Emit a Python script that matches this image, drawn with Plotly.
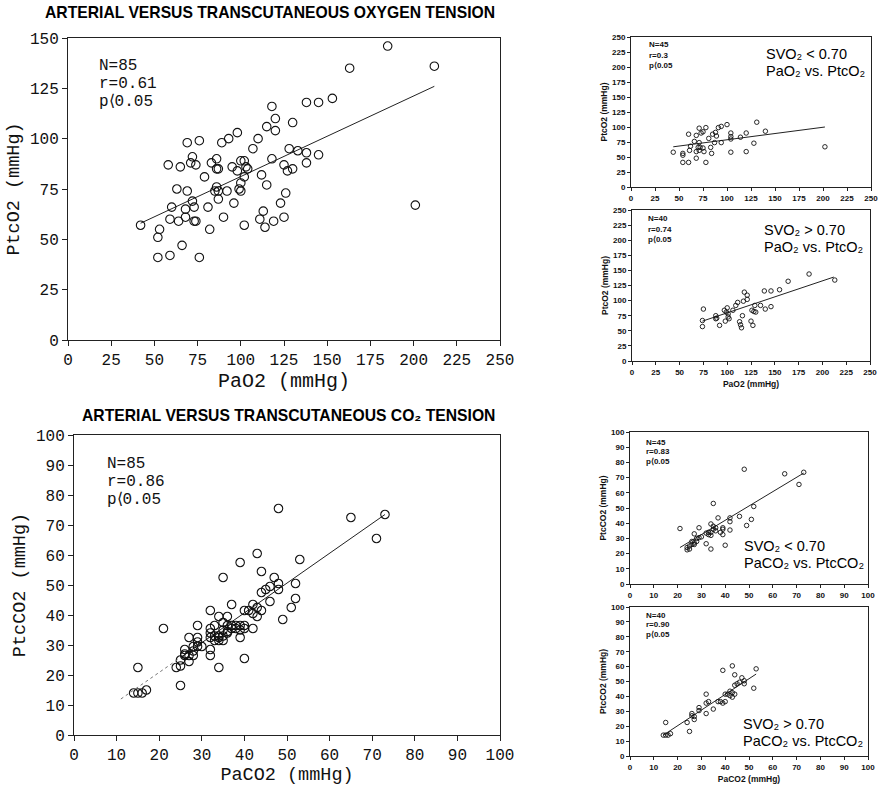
import plotly.graph_objects as go

# ---------------- DATA ----------------
# Main O2 panel (N=85)
o2_pao2 = [185, 163, 212, 153, 138, 145, 118, 120, 120, 115, 130, 110, 98, 93, 89, 76, 69,
           107, 128, 133, 138, 145, 138, 58, 65, 72, 71, 74, 83, 86, 86, 87, 95, 98, 100, 102,
           103, 104, 100, 102, 99, 100, 112, 118, 125, 127, 130, 79, 115, 126, 63, 69, 86, 85,
           87, 92, 87, 96, 72, 60, 68, 73, 81, 123, 113, 68, 59, 64, 73, 74, 90, 111, 119, 125,
           102, 114, 42, 53, 52, 82, 66, 52, 59, 76, 201]
o2_ptco2 = [146, 135, 136, 120, 118, 118, 116, 110, 104, 106, 108, 100, 103, 100, 98, 99, 98,
            95, 95, 94, 93, 92, 88, 87, 86, 91, 88, 87, 88, 90, 85, 85, 86, 84, 89, 89,
            86, 85, 78, 81, 75, 74, 82, 90, 87, 84, 85, 81, 77, 73, 75, 74, 76, 74,
            74, 74, 70, 68, 69, 66, 65, 66, 66, 68, 64, 61, 60, 59, 59, 59, 61, 60, 59, 61,
            57, 56, 57, 55, 51, 55, 47, 41, 42, 41, 67]
o2_fit_x = [42, 212]
o2_fit_y = [58, 126]

# Main CO2 panel (N=85)
co2_paco2 = [48, 65, 73, 71, 43, 39, 53, 35, 44, 47, 48, 48, 46, 45, 44, 52, 52, 46, 51, 49,
             37, 32, 40, 42, 41, 42, 43, 43, 44, 42, 34, 36, 35, 36, 37, 38, 39, 40, 40, 39,
             39, 36, 35, 35, 34, 34, 33, 33, 32, 32, 32, 33, 32, 32, 29, 29, 29, 30, 29, 28,
             28, 27, 26, 26, 27, 28, 26, 27, 25, 25, 24, 25, 21, 34, 40, 15, 14, 15, 16, 17,
             35, 34, 38, 37, 36]
co2_ptcco2 = [75.5, 72.5, 73.5, 65.5, 60.5, 57.5, 58.5, 52.5, 54.5, 52.5, 50.5, 48.5, 49.5,
              48.5, 47.5, 50.5, 45.5, 44.5, 42.5, 38.5, 43.5, 41.5, 41.5, 43.5, 41.5, 40.5,
              42.5, 39.5, 41.5, 35.5, 39.5, 39.5, 37.5, 36.5, 36.5, 36.5, 36.5, 36.5, 35.5,
              35, 32.5, 34.5, 33, 31.5, 33, 32.5, 33, 36.5, 35.5, 34, 32.5, 31.5, 28.5, 26.5,
              36.5, 32.5, 31, 29.5, 29.5, 29.5, 28, 32.5, 28.5, 27, 26.5, 26.5, 26.5, 24.5,
              25, 23, 22.5, 16.5, 35.5, 22.5, 25.5, 22.5, 14, 14, 14, 15, 35, 31.5, 35.5,
              35.5, 34]
co2_fit_x = [25, 73]            # solid part of the regression line
co2_fit_y = [25.8, 73.5]
co2_fit_dot_x = [11, 25]        # faint dotted lower part
co2_fit_dot_y = [12, 25.8]

# SVO2 < 0.70, O2 (N=45)
lo_o2_pao2 = [44, 54, 54, 54, 60, 60, 62, 61, 66, 68, 68, 68, 71, 71, 71, 70, 73, 75, 75, 76,
              78, 78, 81, 83, 84, 85, 87, 88, 89, 91, 94, 94, 100, 104, 104, 104, 104, 114,
              120, 120, 128, 131, 140, 202, 72]
lo_o2_ptco2 = [58, 53, 56, 41, 41, 88, 68, 61, 76, 86, 59, 48, 98, 74, 61, 66, 90, 92, 65, 59,
               99, 41, 81, 66, 56, 88, 74, 91, 85, 99, 101, 74, 104, 58, 90, 84, 80, 83,
               90, 59, 73, 108, 93, 67, 66]
lo_o2_fit_x = [44, 202]
lo_o2_fit_y = [67, 100]

# SVO2 > 0.70, O2 (N=40)
hi_o2_pao2 = [74, 74, 75, 88, 88, 89, 92, 97, 98, 99, 100, 101, 101, 102, 106, 109, 111, 114,
              113, 115, 116, 117, 118, 121, 121, 125, 126, 127, 128, 129, 130, 135, 139, 140,
              146, 146, 155, 164, 186, 213]
hi_o2_ptco2 = [67, 57, 86, 75, 70, 71, 59, 84, 66, 81, 88, 73, 78, 70, 84, 92, 97, 60,
               65, 55, 75, 99, 114, 109, 102, 66, 84, 59, 82, 92, 81, 92, 116, 86,
               116, 90, 118, 132, 144, 134]
hi_o2_fit_x = [74, 212]
hi_o2_fit_y = [66, 139]

# SVO2 < 0.70, CO2 (N=45)
lo_co2_paco2 = [48, 65, 71, 73, 35, 52, 37, 42, 46, 51, 42, 49, 21, 29, 34, 35, 36, 35, 39, 39,
                38, 42, 39, 27, 32, 33, 34, 34, 33, 28, 29, 30, 26, 27, 26, 25, 24, 25, 24,
                27, 28, 34, 40, 32, 36]
lo_co2_ptcco2 = [75.5, 72.5, 65.5, 73.5, 53, 51, 43.5, 43.5, 44.5, 42.5, 41, 38.5, 36.5, 37,
                 39.5, 38, 37, 36, 37, 36, 34, 35.5, 32.5, 33, 33.5, 32.5, 32, 34, 34, 30,
                 30.5, 31, 28, 27, 26, 25, 24, 23, 22.5, 26, 28, 23, 25.5, 26.5, 35]
lo_co2_fit_x = [21, 73]
lo_co2_fit_y = [24, 73]

# SVO2 > 0.70, CO2 (N=40)
hi_co2_paco2 = [53, 43, 39, 44, 47, 48, 48, 46, 45, 44, 52, 42, 43, 44, 43, 40, 41, 42, 32, 39,
                40, 37, 38, 33, 35, 32, 32, 29, 29, 26, 27, 26, 27, 24, 25, 15, 14, 15, 16, 17]
hi_co2_ptcco2 = [58.5, 60.5, 57.5, 54.5, 52.5, 50.5, 48.5, 49.5, 48.5, 47.5, 45.5, 43.5, 42.5,
                 41.5, 39.5, 41.5, 41.5, 40.5, 41.5, 35.5, 36.5, 36.5, 36.5, 36.5, 31.5, 35.5,
                 28.5, 32.5, 30.5, 28.5, 26.5, 27, 24.5, 22.5, 16.5, 22.5, 14, 14, 14, 15]
hi_co2_fit_x = [14, 53]
hi_co2_fit_y = [14, 55]

# Tick values
o2_ticks = [0, 25, 50, 75, 100, 125, 150, 175, 200, 225, 250]
o2_main_yticks = [0, 25, 50, 75, 100, 125, 150]
co2_ticks = [0, 10, 20, 30, 40, 50, 60, 70, 80, 90, 100]

# Texts
main_titles = ["ARTERIAL VERSUS TRANSCUTANEOUS OXYGEN TENSION",
               "ARTERIAL VERSUS TRANSCUTANEOUS CO₂ TENSION"]
o2_stats = ["N=85", "r=0.61", "p⟨0.05"]
co2_stats = ["N=85", "r=0.86", "p⟨0.05"]
small_stats = [["N=45", "r=0.3", "p⟨0.05"],
               ["N=40", "r=0.74", "p⟨0.05"],
               ["N=45", "r=0.83", "p⟨0.05"],
               ["N=40", "r=0.90", "p⟨0.05"]]
small_labels = [["SVO₂ < 0.70", "PaO₂ vs. PtcO₂"],
                ["SVO₂ > 0.70", "PaO₂ vs. PtcO₂"],
                ["SVO₂ < 0.70", "PaCO₂ vs. PtcCO₂"],
                ["SVO₂ > 0.70", "PaCO₂ vs. PtcCO₂"]]

# ---------------- FIGURE ----------------
W, H = 882, 790
def dx(a, b):
    return [a / W, b / W]
def dy(top, bottom):
    return [1 - bottom / H, 1 - top / H]

fig = go.Figure()

panels = [
    (o2_pao2, o2_ptco2, o2_fit_x, o2_fit_y, "", 8.5),
    (co2_paco2, co2_ptcco2, co2_fit_x, co2_fit_y, "2", 8.5),
    (lo_o2_pao2, lo_o2_ptco2, lo_o2_fit_x, lo_o2_fit_y, "3", 4.5),
    (hi_o2_pao2, hi_o2_ptco2, hi_o2_fit_x, hi_o2_fit_y, "4", 4.5),
    (lo_co2_paco2, lo_co2_ptcco2, lo_co2_fit_x, lo_co2_fit_y, "5", 4.5),
    (hi_co2_paco2, hi_co2_ptcco2, hi_co2_fit_x, hi_co2_fit_y, "6", 4.5),
]
for xs, ys, fx, fy, s, ms in panels:
    fig.add_trace(go.Scatter(x=fx, y=fy, mode="lines", xaxis="x" + s, yaxis="y" + s,
                             line=dict(color="#222", width=1), showlegend=False,
                             hoverinfo="skip"))
    fig.add_trace(go.Scatter(x=xs, y=ys, mode="markers", xaxis="x" + s, yaxis="y" + s,
                             marker=dict(symbol="circle-open", size=ms, color="#111",
                                         line=dict(width=1.1 if ms > 6 else 0.9)),
                             showlegend=False))
fig.add_trace(go.Scatter(x=co2_fit_dot_x, y=co2_fit_dot_y, mode="lines", xaxis="x2",
                         yaxis="y2", line=dict(color="#777", width=1, dash="dot"),
                         showlegend=False, hoverinfo="skip"))

mono = "Liberation Mono"
sans = "Liberation Sans"

def main_axis(domain, rng, ticks, title, anchor, standoff, tsize=18.5):
    return dict(domain=domain, range=rng, tickvals=ticks, ticks="outside", ticklen=5,
                tickcolor="#222", showline=True, linecolor="#222", linewidth=1, mirror=True,
                showgrid=False, zeroline=False, anchor=anchor, automargin=False,
                tickfont=dict(family=mono, size=16, color="#111"),
                title=dict(text=title, font=dict(family=mono, size=tsize, color="#111"),
                           standoff=standoff))

def small_axis(domain, rng, ticks, title, anchor, standoff=4):
    return dict(domain=domain, range=rng, tickvals=ticks, ticks="outside", ticklen=3,
                tickcolor="#222", showline=True, linecolor="#222", linewidth=1, mirror=True,
                showgrid=False, zeroline=False, anchor=anchor, automargin=False,
                tickfont=dict(family=sans, size=8, color="#111", weight="bold"),
                title=dict(text=title, font=dict(family=sans, size=8.5, color="#111",
                                                 weight="bold"), standoff=standoff))

fig.update_layout(
    template="none",
    width=W, height=H, margin=dict(l=0, r=0, t=0, b=0, autoexpand=False),
    paper_bgcolor="white", plot_bgcolor="white",
    xaxis=main_axis(dx(68, 500), [0, 250], o2_ticks, "PaO2 (mmHg)", "y", 2, 20),
    yaxis=main_axis(dy(38, 340), [0, 150], o2_main_yticks, "PtcO2 (mmHg)", "x", 5),
    xaxis2=main_axis(dx(74, 500), [0, 100], co2_ticks, "PaCO2 (mmHg)", "y2", 2),
    yaxis2=main_axis(dy(435, 735), [0, 100], co2_ticks, "PtcCO2 (mmHg)", "x2", 5),
    xaxis3=small_axis(dx(631, 871), [0, 250], o2_ticks, "", "y3"),
    yaxis3=small_axis(dy(37, 187), [0, 250], o2_ticks, "PtcO2 (mmHg)", "x3", 3),
    xaxis4=small_axis(dx(632, 870), [0, 250], o2_ticks, "PaO2 (mmHg)", "y4", 5),
    yaxis4=small_axis(dy(210, 361), [0, 250], o2_ticks, "PtcO2 (mmHg)", "x4", 3),
    xaxis5=small_axis(dx(630, 868), [0, 100], co2_ticks, "", "y5"),
    yaxis5=small_axis(dy(432, 584), [0, 100], co2_ticks, "PtcCO2 (mmHg)", "x5", 3),
    xaxis6=small_axis(dx(630, 868), [0, 100], co2_ticks, "PaCO2 (mmHg)", "y6", 5),
    yaxis6=small_axis(dy(607, 756), [0, 100], co2_ticks, "PtcCO2 (mmHg)", "x6", 3),
)

ann = []
def add_text(text, px, py, font, xanchor="left", yanchor="middle"):
    ann.append(dict(text=text, x=px / W, y=1 - py / H, xref="paper", yref="paper",
                    xanchor=xanchor, yanchor=yanchor, showarrow=False, font=font))

title_font = dict(family=sans, size=15.7, color="#000", weight="bold")
add_text(main_titles[0], 270, 13, title_font, xanchor="center")
add_text(main_titles[1], 288, 415, title_font, xanchor="center")

stat_font = dict(family=mono, size=16, color="#111")
for txt, py in zip(o2_stats, [66, 84, 102]):
    add_text(txt, 97, py, stat_font)
for txt, py in zip(co2_stats, [464, 482, 500]):
    add_text(txt, 105, py, stat_font)

small_stat = dict(family=sans, size=8, color="#111", weight="bold")
stat_pos = [(647, [44.5, 55, 65.5]), (646, [219, 229.5, 239.5]),
            (644, [442, 451.5, 461]), (644, [615, 624.5, 634])]
for lines, (px, pys) in zip(small_stats, stat_pos):
    for txt, py in zip(lines, pys):
        add_text(txt, px, py, small_stat)

lab_font = dict(family=sans, size=14.5, color="#000")
lab_pos = [(764, [54, 71]), (762, [230, 247]), (742, [546, 563]), (741, [723.5, 740.5])]
for lines, (px, pys) in zip(small_labels, lab_pos):
    for txt, py in zip(lines, pys):
        add_text(txt, px, py, lab_font)

fig.update_layout(annotations=ann)
fig.write_html("out.html", config={"displayModeBar": False},
               post_script="document.body.style.margin='0';"
                           "document.body.style.overflow='hidden';")
